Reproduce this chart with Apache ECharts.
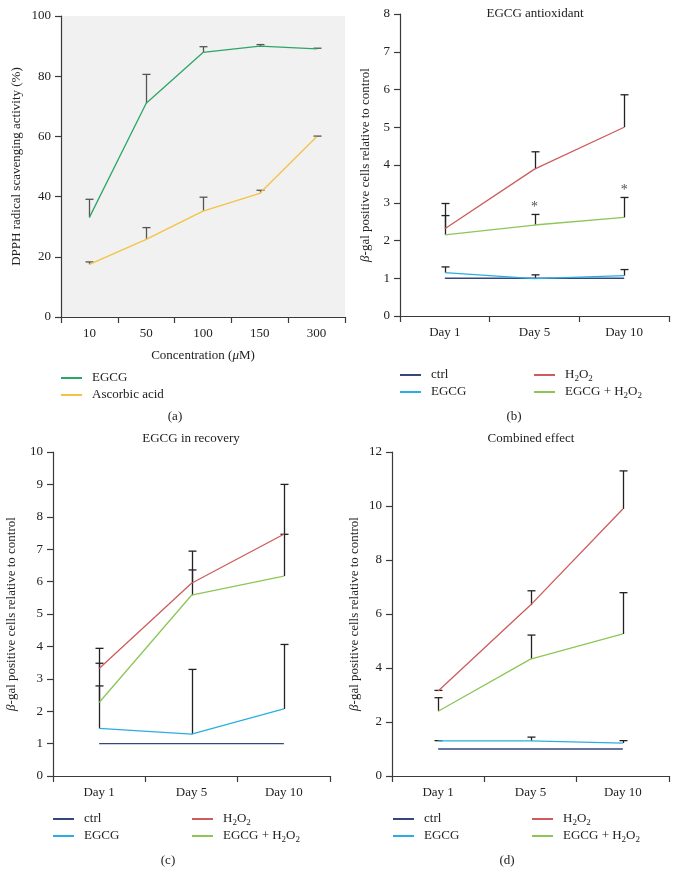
<!DOCTYPE html>
<html><head><meta charset="utf-8">
<script src="https://cdn.jsdelivr.net/npm/echarts@6/dist/echarts.min.js"></script>
<style>html,body{margin:0;padding:0;background:#fff}#c{width:678px;height:887px}</style>
</head><body><div id="c"></div>
<script>
// ---------- data ----------
const concLabels = ['10', '50', '100', '150', '300'];
const aEgcg = [33.1, 71.0, 87.9, 90.0, 89.1];
const aEgcgTop = [39.1, 80.6, 89.8, 90.5, 89.3];
const aAsc = [17.5, 25.8, 35.2, 41.1, 59.9];
const aAscTop = [18.3, 29.7, 39.8, 42.1, 60.1];

const days = ['Day 1', 'Day 5', 'Day 10'];

const bCtrl = [1, 1, 1];
const bEgcg = [1.15, 0.99, 1.07];
const bEgcgTop = [1.3, 1.09, 1.23];
const bH2o2 = [2.31, 3.89, 5.0];
const bH2o2Top = [2.98, 4.35, 5.86];
const bCombo = [2.15, 2.41, 2.61];
const bComboTop = [2.66, 2.69, 3.14];
const bStarIdx = [1, 2];

const cCtrl = [1, 1, 1];
const cEgcg = [1.47, 1.29, 2.07];
const cEgcgTop = [3.48, 3.29, 4.06];
const cH2o2 = [3.32, 5.95, 7.46];
const cH2o2Top = [3.94, 6.94, 9.0];
const cCombo = [2.27, 5.58, 6.17];
const cComboTop = [2.78, 6.36, 7.46];

const dCtrl = [1, 1, 1];
const dEgcg = [1.3, 1.3, 1.22];
const dEgcgTop = [1.31, 1.44, 1.31];
const dH2o2 = [3.15, 6.33, 9.89];
const dH2o2Top = [3.17, 6.86, 11.3];
const dCombo = [2.4, 4.33, 5.26];
const dComboTop = [2.9, 5.22, 6.79];

// ---------- styles ----------
const FONT = "'Liberation Serif', 'Times New Roman', serif";
const AX = '#3a3a3a';
const TXT = '#222';
const COL = {
  aE: '#2aa766', aA: '#f5c244',
  ctrl: '#34477f', EGCG: '#2aaee2', H2O2: '#cd5c5c', 'EGCG+H2O2': '#8dc657'
};
const legendNames = {
  aE: 'EGCG', aA: 'Ascorbic acid', ctrl: 'ctrl', EGCG: 'EGCG',
  H2O2: 'H{s|2}O{s|2}', 'EGCG+H2O2': 'EGCG + H{s|2}O{s|2}'
};

function xAx(gi, data, extra) {
  return Object.assign({
    type: 'category', gridIndex: gi, data: data, boundaryGap: true,
    axisLine: { show: true, onZero: false, lineStyle: { color: AX, width: 1.2 } },
    axisTick: { show: true, length: 6, lineStyle: { color: AX, width: 1.2 } },
    axisLabel: { fontFamily: FONT, fontSize: 13, color: TXT, margin: 10 },
    splitLine: { show: false }
  }, extra || {});
}
function yAx(gi, max, interval, gap) {
  return {
    type: 'value', gridIndex: gi, min: 0, max: max, interval: interval,
    axisLine: { show: true, lineStyle: { color: AX, width: 1.2 } },
    axisTick: { show: true, length: 6, lineStyle: { color: AX, width: 1.2 } },
    axisLabel: { fontFamily: FONT, fontSize: 13, color: TXT, margin: 10 },
    splitLine: { show: false },
    name: gi === 0 ? 'DPPH radical scavenging activity (%)' : '{i|\u03b2}-gal positive cells relative to control',
    nameLocation: 'middle', nameGap: gap, nameRotate: 90,
    nameTextStyle: { fontFamily: FONT, fontSize: 13, color: TXT,
      rich: { i: { fontFamily: FONT, fontSize: 13, color: TXT, fontStyle: 'italic' } } }
  };
}
function lineS(gi, name, data, z) {
  return {
    type: 'line', name: name, xAxisIndex: gi, yAxisIndex: gi, data: data,
    symbol: 'none', z: z || 3, animation: false,
    lineStyle: { color: COL[name], width: 1.3 }, itemStyle: { color: COL[name] }
  };
}
function errS(gi, vals, tops, color) {
  return {
    type: 'custom', xAxisIndex: gi, yAxisIndex: gi, silent: true, z: 2, animation: false,
    data: vals.map((v, i) => [i, v, tops[i]]),
    renderItem: function (params, api) {
      const lo = api.coord([api.value(0), api.value(1)]);
      const hi = api.coord([api.value(0), api.value(2)]);
      const x = Math.round(lo[0]) + 0.5;
      const st = { stroke: color, lineWidth: 1.3 };
      return { type: 'group', children: [
        { type: 'line', shape: { x1: x, y1: lo[1], x2: x, y2: hi[1] }, style: st },
        { type: 'line', shape: { x1: x - 4, y1: hi[1], x2: x + 4, y2: hi[1] }, style: st }
      ] };
    }
  };
}
function legend(left, top, data) {
  return {
    left: left, top: top, orient: 'vertical', data: data, icon: 'rect',
    itemWidth: 21, itemHeight: 2, itemGap: 1, selectedMode: false, padding: 0,
    formatter: n => legendNames[n],
    textStyle: { fontFamily: FONT, fontSize: 13, color: TXT, lineHeight: 16, padding: [0, 0, 0, 5],
      rich: { s: { fontFamily: FONT, fontSize: 9, color: TXT, padding: [7, 0, 0, 0] } } }
  };
}
function ttl(text, x, y) {
  return { text: text, left: x, top: y, textAlign: 'center', padding: 0,
    textStyle: { fontFamily: FONT, fontSize: 13, fontWeight: 'normal', color: TXT } };
}

const option = {
  animation: false,
  backgroundColor: '#fff',
  title: [
    ttl('EGCG antioxidant', 535, 7),
    ttl('EGCG in recovery', 191, 432),
    ttl('Combined effect', 531, 432),
    ttl('(a)', 175, 410), ttl('(b)', 514, 410),
    ttl('(c)', 168, 854), ttl('(d)', 507, 854)
  ],
  grid: [
    { left: 61, top: 16, width: 284, height: 301, show: true, backgroundColor: '#f1f1f1', borderWidth: 0 },
    { left: 400, top: 14, width: 269, height: 302 },
    { left: 53, top: 452, width: 277, height: 324 },
    { left: 392, top: 452, width: 277, height: 324 }
  ],
  xAxis: [
    xAx(0, concLabels, { name: 'Concentration ({i|\u03bc}M)', nameLocation: 'middle', nameGap: 32,
      nameTextStyle: { fontFamily: FONT, fontSize: 13, color: TXT,
        rich: { i: { fontFamily: FONT, fontSize: 13, color: TXT, fontStyle: 'italic' } } } }),
    xAx(1, days), xAx(2, days), xAx(3, days)
  ],
  yAxis: [yAx(0, 100, 20, 38), yAx(1, 8, 1, 28), yAx(2, 10, 1, 35), yAx(3, 12, 2, 31)],
  legend: [
    legend(61, 370, ['aE', 'aA']),
    legend(400, 367, ['ctrl', 'EGCG']), legend(534, 367, ['H2O2', 'EGCG+H2O2']),
    legend(53, 811, ['ctrl', 'EGCG']), legend(192, 811, ['H2O2', 'EGCG+H2O2']),
    legend(393, 811, ['ctrl', 'EGCG']), legend(532, 811, ['H2O2', 'EGCG+H2O2'])
  ],
  series: [
    errS(0, aEgcg, aEgcgTop, '#555'), errS(0, aAsc, aAscTop, '#555'),
    lineS(0, 'aE', aEgcg), lineS(0, 'aA', aAsc),

    errS(1, bEgcg, bEgcgTop, '#222'), errS(1, bH2o2, bH2o2Top, '#222'), errS(1, bCombo, bComboTop, '#222'),
    lineS(1, 'ctrl', bCtrl), lineS(1, 'EGCG', bEgcg, 4), lineS(1, 'H2O2', bH2o2), lineS(1, 'EGCG+H2O2', bCombo),
    {
      type: 'scatter', xAxisIndex: 1, yAxisIndex: 1, silent: true, symbolSize: 1,
      itemStyle: { color: 'rgba(0,0,0,0)' },
      data: bStarIdx.map(i => [i, bComboTop[i]]),
      label: { show: true, position: 'top', distance: 0, formatter: '*',
        fontFamily: FONT, fontSize: 14, color: TXT }
    },

    errS(2, cEgcg, cEgcgTop, '#222'), errS(2, cH2o2, cH2o2Top, '#222'), errS(2, cCombo, cComboTop, '#222'),
    lineS(2, 'ctrl', cCtrl), lineS(2, 'EGCG', cEgcg), lineS(2, 'H2O2', cH2o2), lineS(2, 'EGCG+H2O2', cCombo),

    errS(3, dEgcg, dEgcgTop, '#222'), errS(3, dH2o2, dH2o2Top, '#222'), errS(3, dCombo, dComboTop, '#222'),
    lineS(3, 'ctrl', dCtrl), lineS(3, 'EGCG', dEgcg), lineS(3, 'H2O2', dH2o2), lineS(3, 'EGCG+H2O2', dCombo)
  ]
};
const chart = echarts.init(document.getElementById('c'));
chart.setOption(option);
</script>
</body></html>
